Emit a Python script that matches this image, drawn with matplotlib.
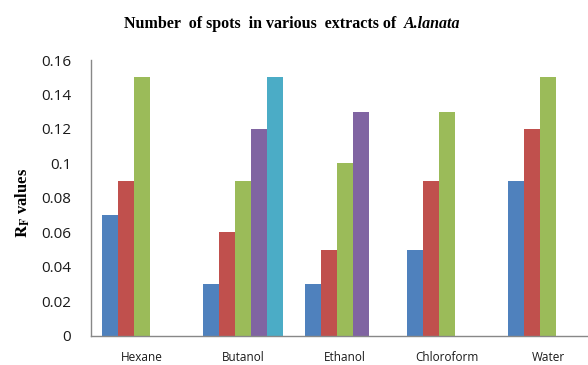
import matplotlib
matplotlib.use('Agg')
import matplotlib.pyplot as plt
import numpy as np

plt.rcParams['mathtext.fontset'] = 'stix'

extracts = ['Hexane', 'Butanol', 'Ethanol', 'Chloroform', 'Water']

# Rf value of each spot, by spot order within the extract (nan = no spot)
spot1 = [0.07, 0.03, 0.03, 0.05, 0.09]
spot2 = [0.09, 0.06, 0.05, 0.09, 0.12]
spot3 = [0.15, 0.09, 0.10, 0.13, 0.15]
spot4 = [np.nan, 0.12, 0.13, np.nan, np.nan]
spot5 = [np.nan, 0.15, np.nan, np.nan, np.nan]

y_ticks = [0, 0.02, 0.04, 0.06, 0.08, 0.1, 0.12, 0.14, 0.16]
y_tick_labels = ['0', '0.02', '0.04', '0.06', '0.08', '0.1', '0.12', '0.14', '0.16']

colors = ['#4F81BD', '#C0504D', '#9BBB59', '#8064A2', '#4BACC6']

fig = plt.figure(figsize=(5.88, 3.65), dpi=100)
ax = fig.add_axes([90.7 / 588, 1 - 335.7 / 365, 1 - 90.7 / 588, (335.7 - 60) / 365])

x = np.arange(len(extracts))
width = 0.157
series = [spot1, spot2, spot3, spot4, spot5]
for i, (vals, c) in enumerate(zip(series, colors)):
    ax.bar(x + (i - 2) * width, vals, width, color=c, linewidth=0)

ax.set_xlim(-0.5, (588 - 90.7) / 101.7 - 0.5)
ax.set_ylim(0, 0.16)
ax.set_yticks(y_ticks)
ax.set_yticklabels(y_tick_labels, fontfamily='Open Sans', fontsize=11, color='#1a1a1a')
ax.set_xticks(x)
ax.set_xticklabels(extracts, fontfamily='Open Sans', fontsize=8.5, color='#1a1a1a')
ax.tick_params(axis='y', length=0, pad=14)
ax.tick_params(axis='x', length=0, pad=11)

for side in ['top', 'right']:
    ax.spines[side].set_visible(False)
for side in ['left', 'bottom']:
    ax.spines[side].set_color('#888888')
    ax.spines[side].set_linewidth(1.0)

# title: plain bold part followed by the bold italic species name
title_y = 1 - 24 / 365
renderer = fig.canvas.get_renderer()
t1 = fig.text(0, title_y, 'Number  of spots  in various  extracts of  ',
              ha='left', va='center', fontfamily='Liberation Serif',
              fontweight='bold', fontsize=11.5)
t2 = fig.text(0, title_y, 'A.lanata', ha='left', va='center',
              fontfamily='Liberation Serif', fontweight='bold',
              fontstyle='italic', fontsize=11.5)
w1 = t1.get_window_extent(renderer).width
w2 = t2.get_window_extent(renderer).width
start = 292 - (w1 + w2) / 2
t1.set_x(start / 588)
t2.set_x((start + w1) / 588)

fig.text(23 / 588, 1 - 203 / 365, r'$\mathbf{R_F}$ values', rotation=90,
         ha='center', va='center', fontfamily='Liberation Serif',
         fontweight='bold', fontsize=12)

fig.savefig('out.png', dpi=100)
